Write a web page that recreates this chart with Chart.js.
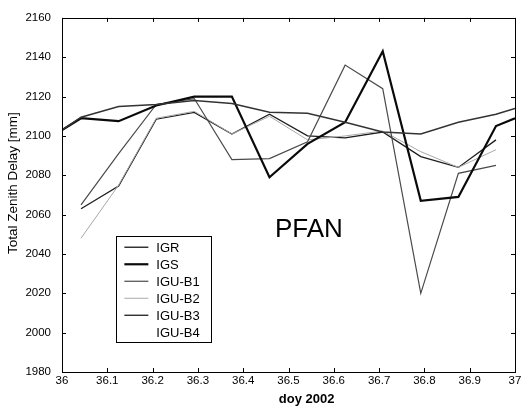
<!DOCTYPE html>
<html><head><meta charset="utf-8">
<script src="https://cdn.jsdelivr.net/npm/chart.js@4/dist/chart.umd.min.js"></script>
<style>html,body{margin:0;padding:0;background:#fff}#wrap{width:526px;height:414px}</style>
</head><body><div id="wrap"><canvas id="c" width="526" height="414"></canvas></div>
<script>
// time axis (day of year 2002)
const doyFull = [36, 36.042, 36.125, 36.208, 36.292, 36.375, 36.458, 36.542, 36.625, 36.708, 36.792, 36.875, 36.958, 37];
const doyIGU  = [36.042, 36.125, 36.208, 36.292, 36.375, 36.458, 36.542, 36.625, 36.708, 36.792, 36.875, 36.958];
// total zenith delay [mm]
const igr   = [2103, 2109.5, 2115, 2116, 2118, 2116.5, 2112, 2111.5, 2107, 2102, 2101, 2107, 2111, 2114];
const igs   = [2103, 2109, 2107.5, 2115.5, 2120, 2120, 2079, 2096, 2107, 2143, 2067, 2069, 2105, 2109];
const igub1 = [2065, 2091, 2116, 2119, 2088, 2088.5, 2097, 2136, 2124, 2020, 2081, 2085];
const igub2 = [2048, 2075, 2109, 2112.5, 2101, 2110, 2098, 2100, 2102.5, 2092, 2084, 2093];
const igub3 = [2063, 2074.5, 2108.5, 2112, 2101, 2111, 2100, 2099, 2102, 2089.5, 2084, 2098];
const igub4 = [];
const seriesNames = ['IGR', 'IGS', 'IGU-B1', 'IGU-B2', 'IGU-B3', 'IGU-B4'];
const yTickValues = [1980, 2000, 2020, 2040, 2060, 2080, 2100, 2120, 2140, 2160];
const stationLabel = 'PFAN';
const xTitle = 'doy 2002';
const yTitle = 'Total Zenith Delay [mm]';

const pts = (xs, ys) => ys.map((v, i) => ({x: xs[i], y: v}));

const styles = [
  {c: '#333333', w: 1.5, d: []},
  {c: '#0a0a0a', w: 2.2, d: []},
  {c: '#4a4a4a', w: 1.2, d: []},
  {c: '#a8a8a8', w: 1.0, d: []},
  {c: '#1e1e1e', w: 1.3, d: []},
  {c: '#ffffff', w: 1.0, d: []}
];
const seriesData = [pts(doyFull, igr), pts(doyFull, igs), pts(doyIGU, igub1), pts(doyIGU, igub2), pts(doyIGU, igub3), pts(doyIGU, igub4)];

const datasets = seriesNames.map((n, i) => ({
  label: n, data: seriesData[i], borderColor: styles[i].c, borderWidth: styles[i].w,
  borderDash: styles[i].d, pointRadius: 0, tension: 0, fill: false
}));

const frame = {
  id: 'frame',
  afterDraw(chart) {
    const ctx = chart.ctx, a = chart.chartArea, xs = chart.scales.x, ys = chart.scales.y;
    ctx.save();
    ctx.strokeStyle = '#000'; ctx.lineWidth = 1;
    ctx.strokeRect(Math.round(a.left) + 0.5, Math.round(a.top) + 0.5, Math.round(a.right - a.left), Math.round(a.bottom - a.top));
    ctx.beginPath();
    const tl = 4;
    xs.ticks.forEach(t => {
      const p = Math.round(xs.getPixelForValue(t.value)) + 0.5;
      ctx.moveTo(p, a.bottom); ctx.lineTo(p, a.bottom - tl);
      ctx.moveTo(p, a.top); ctx.lineTo(p, a.top + tl);
    });
    ys.ticks.forEach(t => {
      const p = Math.round(ys.getPixelForValue(t.value)) + 0.5;
      ctx.moveTo(a.left, p); ctx.lineTo(a.left + tl, p);
      ctx.moveTo(a.right, p); ctx.lineTo(a.right - tl, p);
    });
    ctx.stroke();

    // station label
    ctx.fillStyle = '#000';
    ctx.font = '26px "Liberation Sans", Arial, sans-serif';
    ctx.textAlign = 'left'; ctx.textBaseline = 'alphabetic';
    ctx.fillText(stationLabel, xs.getPixelForValue(36.47), ys.getPixelForValue(2048.5));

    // axis titles
    ctx.font = 'bold 13px "Liberation Sans", Arial, sans-serif';
    ctx.textAlign = 'center'; ctx.textBaseline = 'middle';
    ctx.fillText(xTitle, xs.getPixelForValue(36.54), a.bottom + 27);
    ctx.save();
    ctx.translate(13, ys.getPixelForValue(2076));
    ctx.rotate(-Math.PI / 2);
    ctx.font = '13.5px "Liberation Sans", Arial, sans-serif';
    ctx.fillText(yTitle, 0, 0);
    ctx.restore();

    // legend
    const lx = xs.getPixelForValue(36.12), ly = ys.getPixelForValue(2049);
    const lw = 95, lh = 106;
    ctx.fillStyle = '#fff';
    ctx.fillRect(Math.round(lx) + 0.5, Math.round(ly) + 0.5, lw, lh);
    ctx.strokeStyle = '#000'; ctx.lineWidth = 1;
    ctx.strokeRect(Math.round(lx) + 0.5, Math.round(ly) + 0.5, lw, lh);
    ctx.font = '13px "Liberation Sans", Arial, sans-serif';
    ctx.textAlign = 'left'; ctx.textBaseline = 'middle';
    chart.data.datasets.forEach((ds, i) => {
      const yy = ly + 11 + i * 17;
      ctx.strokeStyle = ds.borderColor; ctx.lineWidth = ds.borderWidth;
      ctx.setLineDash(ds.borderDash || []);
      ctx.beginPath(); ctx.moveTo(lx + 8, yy); ctx.lineTo(lx + 32, yy); ctx.stroke();
      ctx.setLineDash([]);
      ctx.fillStyle = '#000';
      ctx.fillText(ds.label, lx + 40, yy + 1);
    });
    ctx.restore();
  }
};

new Chart(document.getElementById('c'), {
  type: 'line',
  data: {datasets},
  options: {
    responsive: false, animation: false, devicePixelRatio: 1,
    layout: {padding: {left: 0, top: 12, right: 11, bottom: 0}},
    plugins: {legend: {display: false}, tooltip: {enabled: false}},
    scales: {
      x: {
        type: 'linear', min: 36, max: 37,
        grid: {display: false, drawTicks: false}, border: {display: false},
        ticks: {stepSize: 0.1, autoSkip: false, maxRotation: 0, padding: 2, color: '#000',
          font: {family: '"Liberation Sans", Arial, sans-serif', size: 11.5},
          callback: v => (Math.round(v * 10) / 10).toString()},
        afterFit: s => { s.height = 42; }
      },
      y: {
        type: 'linear', min: yTickValues[0], max: yTickValues[yTickValues.length - 1],
        grid: {display: false, drawTicks: false}, border: {display: false},
        ticks: {stepSize: 20, padding: 11, color: '#000',
          font: {family: '"Liberation Sans", Arial, sans-serif', size: 11.5},
          callback: v => String(Math.round(v))},
        afterBuildTicks: s => { s.ticks = yTickValues.map(v => ({value: v})); },
        afterFit: s => { s.width = 62; }
      }
    }
  },
  plugins: [frame]
});
</script></body></html>
